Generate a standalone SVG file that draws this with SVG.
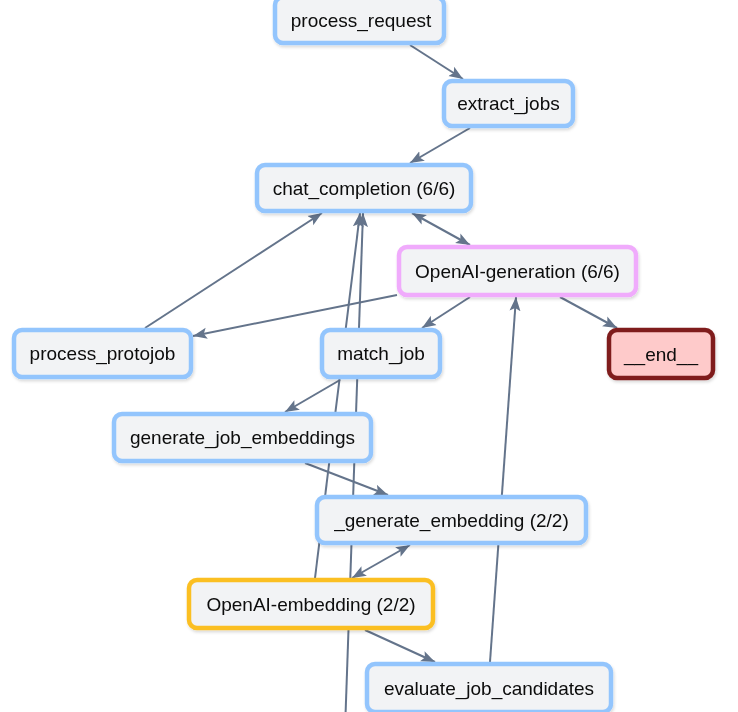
<svg xmlns="http://www.w3.org/2000/svg" width="738" height="712" viewBox="0 0 738 712">
<style>
.n rect{fill:#f2f3f5;stroke:#93c5fd;stroke-width:4.5}
.n.pink rect{stroke:#f0abfc}
.n.amber rect{stroke:#fbbf24}
.n.end rect{fill:#fecaca;stroke:#7f1d1d}
.n text{font-family:"Liberation Sans",Arial,sans-serif;font-size:19px;fill:#0a0a0a;text-anchor:middle;dominant-baseline:central}
#edges line{stroke:#64748b;stroke-width:2;fill:none;marker-end:url(#arr)}
#edges line.bi{marker-start:url(#arr)}
</style>
<defs>
<marker id="arr" markerUnits="userSpaceOnUse" markerWidth="16" markerHeight="12" refX="14" refY="6" orient="auto-start-reverse">
<path d="M0,0.5 L14,6 L0,11.5 L3,6 Z" fill="#64748b"/>
</marker>
<filter id="sh" x="-10%" y="-20%" width="120%" height="150%">
<feDropShadow dx="1" dy="2" stdDeviation="1.5" flood-color="#000" flood-opacity="0.15"/>
</filter>
</defs>
<rect width="738" height="712" fill="#fff"/>
<g id="edges">
<line x1="410" y1="45" x2="463" y2="79"/>
<line x1="470" y1="128" x2="410" y2="163"/>
<line class="bi" x1="412" y1="213" x2="470" y2="245"/>
<line x1="397" y1="295" x2="193" y2="336"/>
<line x1="470" y1="297" x2="422" y2="328"/>
<line x1="560" y1="297" x2="617" y2="328"/>
<line x1="145" y1="328" x2="322" y2="213"/>
<line x1="340" y1="380" x2="285" y2="412"/>
<line x1="305" y1="463" x2="388" y2="495"/>
<line class="bi" x1="410" y1="545" x2="352" y2="578"/>
<line x1="365" y1="630" x2="435" y2="662"/>
<line x1="490" y1="662" x2="516" y2="297"/>
<line x1="315" y1="578" x2="360" y2="213"/>
<line x1="345" y1="730" x2="363" y2="213"/>
</g>
<g id="process_request" class="n" filter="url(#sh)"><rect x="275" y="-3" width="169" height="46" rx="8"/><text x="361" y="20">process_request</text></g>
<g id="extract_jobs" class="n" filter="url(#sh)"><rect x="444" y="81" width="129" height="45" rx="8"/><text x="508.5" y="103.5">extract_jobs</text></g>
<g id="chat_completion" class="n" filter="url(#sh)"><rect x="257" y="165" width="214" height="46" rx="8"/><text x="364" y="188">chat_completion (6/6)</text></g>
<g id="openai_generation" class="n pink" filter="url(#sh)"><rect x="399" y="247" width="237" height="48" rx="8"/><text x="517.5" y="271">OpenAI-generation (6/6)</text></g>
<g id="process_protojob" class="n" filter="url(#sh)"><rect x="14" y="330" width="177" height="47" rx="8"/><text x="102.5" y="353.5">process_protojob</text></g>
<g id="match_job" class="n" filter="url(#sh)"><rect x="322" y="330" width="118" height="47" rx="8"/><text x="381" y="353.5">match_job</text></g>
<g id="end" class="n end" filter="url(#sh)"><rect x="609" y="330" width="104" height="48" rx="8"/><text x="661" y="354">__end__</text></g>
<g id="generate_job_embeddings" class="n" filter="url(#sh)"><rect x="114" y="414" width="257" height="47" rx="8"/><text x="242.5" y="437.5">generate_job_embeddings</text></g>
<g id="generate_embedding" class="n" filter="url(#sh)"><rect x="317" y="497" width="269" height="46" rx="8"/><text x="451.5" y="520">_generate_embedding (2/2)</text></g>
<g id="openai_embedding" class="n amber" filter="url(#sh)"><rect x="189" y="580" width="244" height="48" rx="8"/><text x="311" y="604">OpenAI-embedding (2/2)</text></g>
<g id="evaluate_job_candidates" class="n" filter="url(#sh)"><rect x="367" y="664" width="244" height="48" rx="8"/><text x="489" y="688">evaluate_job_candidates</text></g>
</svg>
